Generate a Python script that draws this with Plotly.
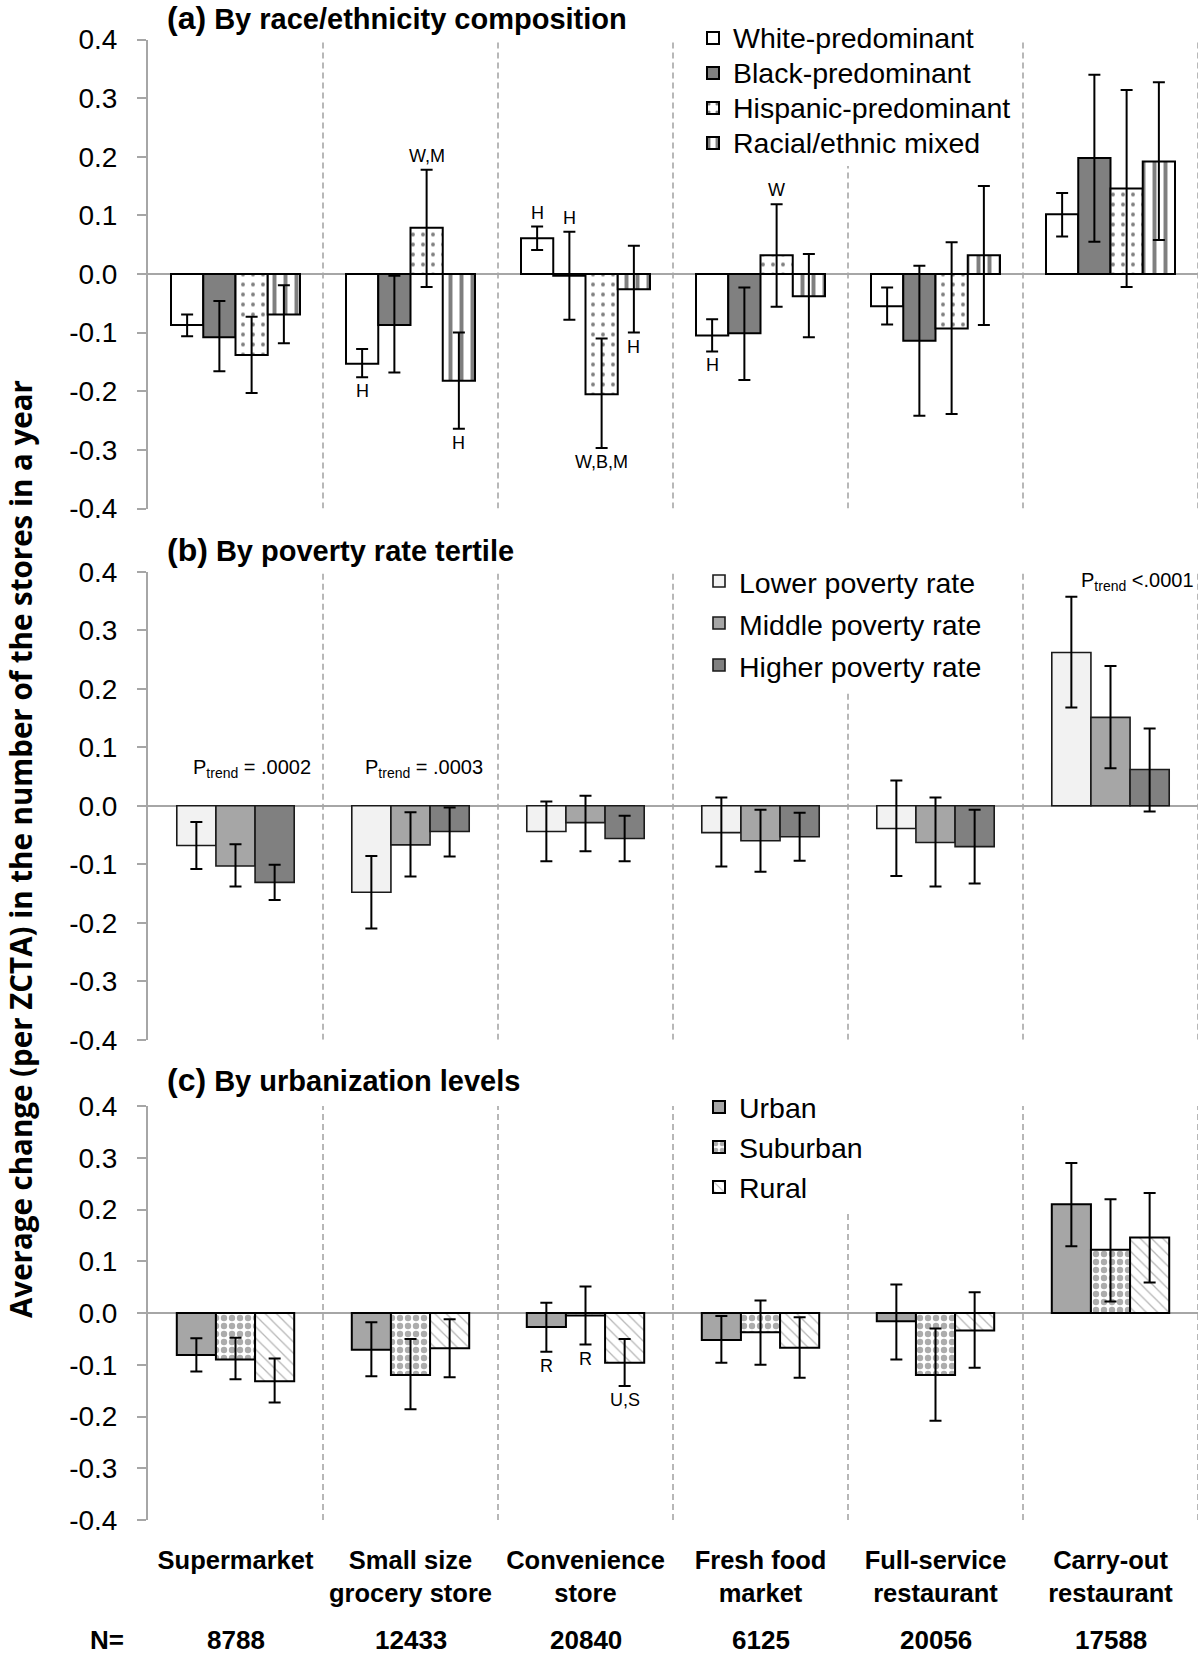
import plotly.graph_objects as go

# ---------------- data ----------------
categories = ["Supermarket", "Small size grocery store", "Convenience store",
              "Fresh food market", "Full-service restaurant", "Carry-out restaurant"]
category_labels = ["Supermarket", "Small size<br>grocery store", "Convenience<br>store",
                   "Fresh food<br>market", "Full-service<br>restaurant", "Carry-out<br>restaurant"]
sample_sizes = ["8788", "12433", "20840", "6125", "20056", "17588"]
y_tick_values = [-0.4, -0.3, -0.2, -0.1, 0.0, 0.1, 0.2, 0.3, 0.4]
y_tick_labels = ["-0.4", "-0.3", "-0.2", "-0.1", "0.0", "0.1", "0.2", "0.3", "0.4"]

# (a) race / ethnicity composition
race_names = ["White-predominant", "Black-predominant", "Hispanic-predominant", "Racial/ethnic mixed"]
white_val = [-0.087, -0.153, 0.061, -0.105, -0.055, 0.102]
white_lo = [-0.106, -0.176, 0.041, -0.132, -0.086, 0.064]
white_hi = [-0.069, -0.128, 0.081, -0.077, -0.023, 0.138]
black_val = [-0.108, -0.087, -0.003, -0.101, -0.114, 0.198]
black_lo = [-0.166, -0.168, -0.078, -0.181, -0.242, 0.055]
black_hi = [-0.046, -0.003, 0.072, -0.023, 0.014, 0.340]
hisp_val = [-0.138, 0.079, -0.205, 0.032, -0.093, 0.146]
hisp_lo = [-0.203, -0.022, -0.297, -0.056, -0.239, -0.022]
hisp_hi = [-0.073, 0.178, -0.110, 0.119, 0.054, 0.314]
mixed_val = [-0.069, -0.182, -0.026, -0.038, 0.032, 0.192]
mixed_lo = [-0.118, -0.264, -0.100, -0.108, -0.087, 0.058]
mixed_hi = [-0.019, -0.100, 0.048, 0.034, 0.150, 0.327]
race_note_text = ["W,M", "H", "H", "H", "H", "W,B,M", "H", "H", "W"]
race_note_cat = [1, 1, 1, 2, 2, 2, 2, 3, 3]
race_note_series = [2, 0, 3, 0, 1, 2, 3, 0, 2]
race_note_side = ["above", "below", "below", "above", "above", "below", "below", "below", "above"]

# (b) poverty rate tertile
poverty_names = ["Lower poverty rate", "Middle poverty rate", "Higher poverty rate"]
lower_val = [-0.068, -0.148, -0.044, -0.046, -0.039, 0.262]
lower_lo = [-0.108, -0.210, -0.095, -0.104, -0.120, 0.168]
lower_hi = [-0.028, -0.086, 0.007, 0.014, 0.043, 0.357]
middle_val = [-0.103, -0.067, -0.029, -0.060, -0.063, 0.151]
middle_lo = [-0.138, -0.121, -0.078, -0.113, -0.138, 0.064]
middle_hi = [-0.066, -0.011, 0.017, -0.007, 0.014, 0.239]
higher_val = [-0.131, -0.044, -0.056, -0.053, -0.070, 0.062]
higher_lo = [-0.161, -0.087, -0.095, -0.094, -0.133, -0.010]
higher_hi = [-0.101, -0.003, -0.017, -0.012, -0.007, 0.132]
p_trend_text = ["P<sub>trend</sub> = .0002", "P<sub>trend</sub> = .0003", "P<sub>trend</sub> <.0001"]

# (c) urbanization levels
urban_names = ["Urban", "Suburban", "Rural"]
urban_val = [-0.081, -0.071, -0.027, -0.052, -0.016, 0.210]
urban_lo = [-0.113, -0.122, -0.075, -0.096, -0.090, 0.129]
urban_hi = [-0.049, -0.018, 0.020, -0.006, 0.055, 0.290]
suburban_val = [-0.090, -0.120, -0.005, -0.037, -0.120, 0.122]
suburban_lo = [-0.128, -0.186, -0.061, -0.100, -0.208, 0.022]
suburban_hi = [-0.048, -0.050, 0.051, 0.024, -0.030, 0.220]
rural_val = [-0.132, -0.068, -0.096, -0.067, -0.034, 0.146]
rural_lo = [-0.173, -0.124, -0.141, -0.125, -0.106, 0.059]
rural_hi = [-0.088, -0.012, -0.050, -0.008, 0.040, 0.232]
urban_note_text = ["R", "R", "U,S"]
urban_note_cat = [2, 2, 2]
urban_note_series = [0, 1, 2]
urban_note_side = ["below", "below", "below"]

panel_labels = ["(a)", "(b)", "(c)"]
panel_titles = ["By race/ethnicity composition", "By poverty rate tertile", "By urbanization levels"]
y_title = "Average change (per ZCTA) in the number of the stores in a year"

# ---------------- layout helpers ----------------
W, H = 1200, 1657
FONT = "Liberation Sans, Arial, Helvetica, sans-serif"


def px(p):
    return p / W


def py(p):
    return 1 - p / H


XDOM = [px(148), px(1198)]
YDOM = {"y": [py(508.5), py(39.5)], "y2": [py(1039.7), py(571.7)], "y3": [py(1520), py(1106)]}

fig = go.Figure()


def pattern(shape="", fg="black", bg="white", size=8, solidity=0.3):
    return dict(shape=shape, fgcolor=fg, bgcolor=bg, size=size, solidity=solidity)


def add_panel(names, vals, los, his, markers, group, xref, yref, legend, text_size):
    n = len(names)
    w = group / n
    for i in range(n):
        v, lo, hi = vals[i], los[i], his[i]
        fig.add_trace(go.Bar(
            x=categories, y=v, name=f'<span style="font-size:{text_size}px">{names[i]}</span>',
            width=w, offset=-group / 2 + i * w,
            xaxis=xref, yaxis=yref, legend=legend,
            marker=markers[i],
            error_y=dict(type="data", symmetric=False,
                         array=[h - a for h, a in zip(hi, v)],
                         arrayminus=[a - l for a, l in zip(v, lo)],
                         color="black", thickness=2, width=6),
            hoverinfo="skip",
        ))
    return w


GROUP_A = 0.737
GROUP_BC = 0.671

markers_a = [
    dict(color="white", line=dict(color="black", width=2)),
    dict(color="#808080", line=dict(color="black", width=2)),
    dict(color="white", line=dict(color="black", width=2), pattern=pattern(".", "black", "white", 10, 0.12)),
    dict(color="white", line=dict(color="black", width=2), pattern=pattern("|", "black", "white", 11, 0.36)),
]
markers_b = [
    dict(color="#f2f2f2", line=dict(color="#1a1a1a", width=1.6)),
    dict(color="#a6a6a6", line=dict(color="#1a1a1a", width=1.6)),
    dict(color="#808080", line=dict(color="#1a1a1a", width=1.6)),
]
markers_c = [
    dict(color="#a6a6a6", line=dict(color="black", width=2)),
    dict(color="white", line=dict(color="black", width=2), pattern=pattern(".", "#5a5a5a", "white", 8, 0.5)),
    dict(color="white", line=dict(color="black", width=2), pattern=pattern("\\", "#6e6e6e", "white", 8, 0.16)),
]

wa = add_panel(race_names, [white_val, black_val, hisp_val, mixed_val],
               [white_lo, black_lo, hisp_lo, mixed_lo], [white_hi, black_hi, hisp_hi, mixed_hi],
               markers_a, GROUP_A, "x", "y", "legend", 28.5)
wb = add_panel(poverty_names, [lower_val, middle_val, higher_val],
               [lower_lo, middle_lo, higher_lo], [lower_hi, middle_hi, higher_hi],
               markers_b, GROUP_BC, "x2", "y2", "legend2", 28.5)
wc = add_panel(urban_names, [urban_val, suburban_val, rural_val],
               [urban_lo, suburban_lo, rural_lo], [urban_hi, suburban_hi, rural_hi],
               markers_c, GROUP_BC, "x3", "y3", "legend3", 28.5)

annotations = []
shapes = []


# significance letters
def add_notes(texts, cats, series, sides, group, w, los_list, his_list, xref, yref, size):
    for t, c, s, side in zip(texts, cats, series, sides):
        xc = c - group / 2 + (s + 0.5) * w
        if side == "above":
            yv, anchor, shift = his_list[s][c], "bottom", 2
        else:
            yv, anchor, shift = los_list[s][c], "top", -2
        annotations.append(dict(x=xc, y=yv, xref=xref, yref=yref, text=t, showarrow=False,
                                xanchor="center", yanchor=anchor, yshift=shift,
                                font=dict(family=FONT, size=size, color="black")))


add_notes(race_note_text, race_note_cat, race_note_series, race_note_side, GROUP_A, wa,
          [white_lo, black_lo, hisp_lo, mixed_lo], [white_hi, black_hi, hisp_hi, mixed_hi], "x", "y", 18)
add_notes(urban_note_text, urban_note_cat, urban_note_series, urban_note_side, GROUP_BC, wc,
          [urban_lo, suburban_lo, rural_lo], [urban_hi, suburban_hi, rural_hi], "x3", "y3", 18)

# P-trend labels (panel b)
for txt, xc, yc in zip(p_trend_text, [0.094, 1.077, 5.152], [0.064, 0.064, 0.383]):
    annotations.append(dict(x=xc, y=yc, xref="x2", yref="y2", text=txt, showarrow=False,
                            xanchor="center", yanchor="middle",
                            font=dict(family=FONT, size=20, color="black")))

# panel titles
for lab, title, ycen in zip(panel_labels, panel_titles, [18, 550, 1080]):
    annotations.append(dict(x=px(165), y=py(ycen), xref="paper", yref="paper", xanchor="left",
                            yanchor="middle", showarrow=False,
                            text=f'<span style="font-size:32px">{lab}</span> {title}',
                            font=dict(family=FONT, size=29, color="black", weight="bold")))

# y-axis title
annotations.append(dict(x=px(21), y=py(849), xref="paper", yref="paper", textangle=-90,
                        showarrow=False, text=y_title, xanchor="center", yanchor="middle",
                        font=dict(family="Open Sans, sans-serif", size=29.5, color="black", weight="bold")))

# N row
annotations.append(dict(x=px(107), y=py(1640), xref="paper", yref="paper", text="N=", showarrow=False,
                        xanchor="center", yanchor="middle",
                        font=dict(family=FONT, size=26, color="black", weight="bold")))
for cat, n in zip(categories, sample_sizes):
    annotations.append(dict(x=cat, y=py(1640), xref="x3", yref="paper", text=n, showarrow=False,
                            xanchor="center", yanchor="middle",
                            font=dict(family=FONT, size=26, color="black", weight="bold")))

# dashed separators
for xr, yr in [("x", "y"), ("x2", "y2"), ("x3", "y3")]:
    for k in range(len(categories)):
        shapes.append(dict(type="line", xref=xr, yref=yr, x0=k + 0.5, x1=k + 0.5, y0=-0.4, y1=0.4,
                           line=dict(color="#a0a0a0", width=1.5, dash="6px,4px"), layer="below"))

layout = dict(
    width=W, height=H, autosize=False,
    margin=dict(l=0, r=0, t=0, b=0, pad=0, autoexpand=False),
    paper_bgcolor="white", plot_bgcolor="white",
    barmode="overlay", showlegend=True, hovermode=False,
    annotations=annotations, shapes=shapes,
)

for i, (xa, ya) in enumerate([("xaxis", "yaxis"), ("xaxis2", "yaxis2"), ("xaxis3", "yaxis3")]):
    yid = ["y", "y2", "y3"][i]
    xid = ["x", "x2", "x3"][i]
    layout[xa] = dict(domain=XDOM, anchor=yid, type="category", categoryorder="array",
                      categoryarray=categories, range=[-0.5, 5.5], showline=False, showgrid=False,
                      zeroline=False, ticks="", showticklabels=(i == 2), automargin=False,
                      tickvals=categories, ticktext=category_labels,
                      tickfont=dict(family=FONT, size=25.5, color="black", weight="bold"),
                      ticklabelstandoff=22)
    layout[ya] = dict(domain=YDOM[yid], anchor=xid, range=[-0.4, 0.4], showgrid=False,
                      showline=True, linecolor="#a6a6a6", linewidth=2, automargin=False,
                      zeroline=True, zerolinecolor="#a6a6a6", zerolinewidth=2,
                      ticks="outside", ticklen=9, tickwidth=2, tickcolor="#a6a6a6",
                      tickvals=y_tick_values, ticktext=y_tick_labels,
                      tickfont=dict(family=FONT, size=28, color="black"),
                      ticklabelstandoff=14)

legend_common = dict(xanchor="left", yanchor="top", bgcolor="white", borderwidth=0,
                     traceorder="normal", itemclick=False, itemdoubleclick=False)
layout["legend"] = dict(legend_common, x=px(693), y=py(15.5),
                        font=dict(family=FONT, size=(35 - 3) / 1.3, color="black"))
layout["legend2"] = dict(legend_common, x=px(699), y=py(555),
                         font=dict(family=FONT, size=(42 - 3) / 1.3, color="black"))
layout["legend3"] = dict(legend_common, x=px(699), y=py(1082),
                         font=dict(family=FONT, size=(40 - 3) / 1.3, color="black"))

fig.update_layout(**layout)

fig.write_html("out.html", config={"displayModeBar": False},
               post_script="document.body.style.margin='0';document.body.style.overflow='hidden';")
